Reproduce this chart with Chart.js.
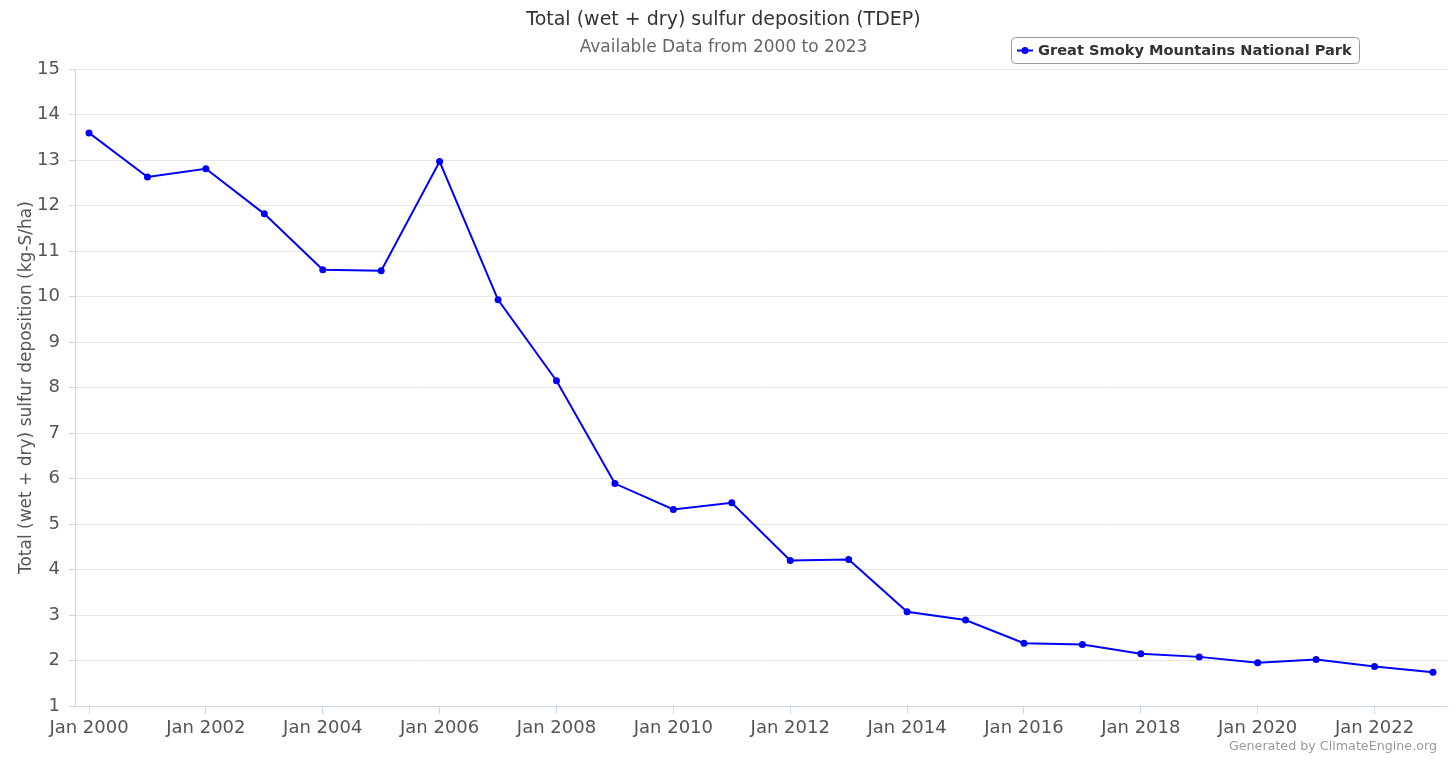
<!DOCTYPE html>
<html lang="en">
<head>
    <meta charset="UTF-8">
    <title>Total (wet + dry) sulfur deposition (TDEP)</title>
    <script src="https://cdn.jsdelivr.net/npm/chart.js"></script>
    <style>
        html, body { margin: 0; padding: 0; background: #fff; }
        .chart-box { width: 1456px; height: 761px; position: relative; }
    </style>
</head>
<body>
    <div class="chart-box">
        <canvas id="tdepChart"></canvas>
    </div>
<script>
    // years of the annual series and the sulfur deposition (kg-S/ha)
    const years = [2000, 2001, 2002, 2003, 2004, 2005, 2006, 2007, 2008, 2009, 2010, 2011,
                   2012, 2013, 2014, 2015, 2016, 2017, 2018, 2019, 2020, 2021, 2022, 2023];
    const sulfurDeposition = [13.60, 12.63, 12.81, 11.82, 10.59, 10.57, 12.97, 9.93, 8.15, 5.89, 5.32, 5.47,
                              4.20, 4.22, 3.07, 2.89, 2.38, 2.35, 2.15, 2.08, 1.95, 2.02, 1.87, 1.74];
    // labelled ticks on the time axis
    const tickYears = [2000, 2002, 2004, 2006, 2008, 2010, 2012, 2014, 2016, 2018, 2020, 2022];

    const seriesName = 'Great Smoky Mountains National Park';
    const fontFamily = '"DejaVu Sans", "Noto Sans", sans-serif';

    // legend box up beside the subtitle, plus the credit line at the bottom
    const extrasPlugin = {
        id: 'extras',
        afterDraw(chart) {
            const ctx = chart.ctx;
            ctx.save();
            // legend frame
            const bx = 1011.5, by = 37.5, bw = 348, bh = 26, r = 4;
            ctx.beginPath();
            ctx.roundRect(bx, by, bw, bh, r);
            ctx.fillStyle = '#ffffff';
            ctx.fill();
            ctx.strokeStyle = '#999999';
            ctx.lineWidth = 1;
            ctx.stroke();
            // symbol
            const ds = chart.data.datasets[0];
            ctx.strokeStyle = ds.borderColor;
            ctx.lineWidth = 2;
            ctx.beginPath();
            ctx.moveTo(1017, 50.5);
            ctx.lineTo(1033, 50.5);
            ctx.stroke();
            ctx.fillStyle = ds.borderColor;
            ctx.beginPath();
            ctx.arc(1025, 50.5, 3.5, 0, Math.PI * 2);
            ctx.fill();
            // label
            ctx.fillStyle = '#333333';
            ctx.font = 'bold 14.6px ' + fontFamily;
            ctx.textAlign = 'left';
            ctx.textBaseline = 'middle';
            ctx.fillText(ds.label, 1038, 51);
            // credit
            ctx.fillStyle = '#999999';
            ctx.font = '12.7px ' + fontFamily;
            ctx.textAlign = 'right';
            ctx.fillText('Generated by ClimateEngine.org', 1437, 747);
            ctx.restore();
        }
    };

    const ctxTdep = document.getElementById('tdepChart').getContext('2d');
    const tdepChart = new Chart(ctxTdep, {
        type: 'line',
        data: {
            datasets: [{
                label: seriesName,
                data: years.map((yr, i) => ({ x: yr, y: sulfurDeposition[i] })),
                borderColor: '#0000ff',
                backgroundColor: '#0000ff',
                borderWidth: 2,
                pointRadius: 3.5,
                pointBorderWidth: 0,
                pointBackgroundColor: '#0000ff',
                fill: false,
                tension: 0
            }]
        },
        options: {
            responsive: true,
            maintainAspectRatio: false,
            animation: false,
            layout: {
                padding: { left: 0, right: 9, top: 0, bottom: 0 }
            },
            plugins: {
                legend: { display: false },
                tooltip: { enabled: false },
                title: {
                    display: true,
                    text: 'Total (wet + dry) sulfur deposition (TDEP)',
                    color: '#333333',
                    font: { family: fontFamily, size: 19, weight: 'normal' },
                    padding: { top: 9, bottom: 2 }
                },
                subtitle: {
                    display: true,
                    text: 'Available Data from 2000 to 2023',
                    color: '#666666',
                    font: { family: fontFamily, size: 17, weight: 'normal' },
                    padding: { top: 4, bottom: 11 }
                }
            },
            scales: {
                x: {
                    type: 'linear',
                    min: 1999.76,
                    max: 2023.24,
                    afterBuildTicks: scale => {
                        scale.ticks = tickYears.map(v => ({ value: v }));
                    },
                    afterFit: scale => { scale.height = 55; },
                    grid: {
                        display: true,
                        drawOnChartArea: false,
                        drawTicks: true,
                        tickLength: 8,
                        tickColor: '#ccd6eb'
                    },
                    border: { display: true, color: '#ccd6eb', width: 1 },
                    ticks: {
                        autoSkip: false,
                        maxRotation: 0,
                        color: '#555555',
                        padding: 4,
                        font: { family: fontFamily, size: 18 },
                        callback: value => 'Jan ' + value
                    }
                },
                y: {
                    min: 1,
                    max: 15,
                    afterFit: scale => { scale.width = 75; },
                    grid: {
                        color: '#e6e6e6',
                        tickColor: '#ccd6eb',
                        tickLength: 6
                    },
                    border: { display: true, color: '#ccd6eb', width: 1 },
                    ticks: {
                        stepSize: 1,
                        color: '#555555',
                        padding: 9,
                        font: { family: fontFamily, size: 18 }
                    },
                    title: {
                        display: true,
                        text: 'Total (wet + dry) sulfur deposition (kg-S/ha)',
                        color: '#555555',
                        font: { family: fontFamily, size: 17 },
                        padding: { top: 16, bottom: 0 }
                    }
                }
            }
        },
        plugins: [extrasPlugin]
    });
</script>
</body>
</html>
